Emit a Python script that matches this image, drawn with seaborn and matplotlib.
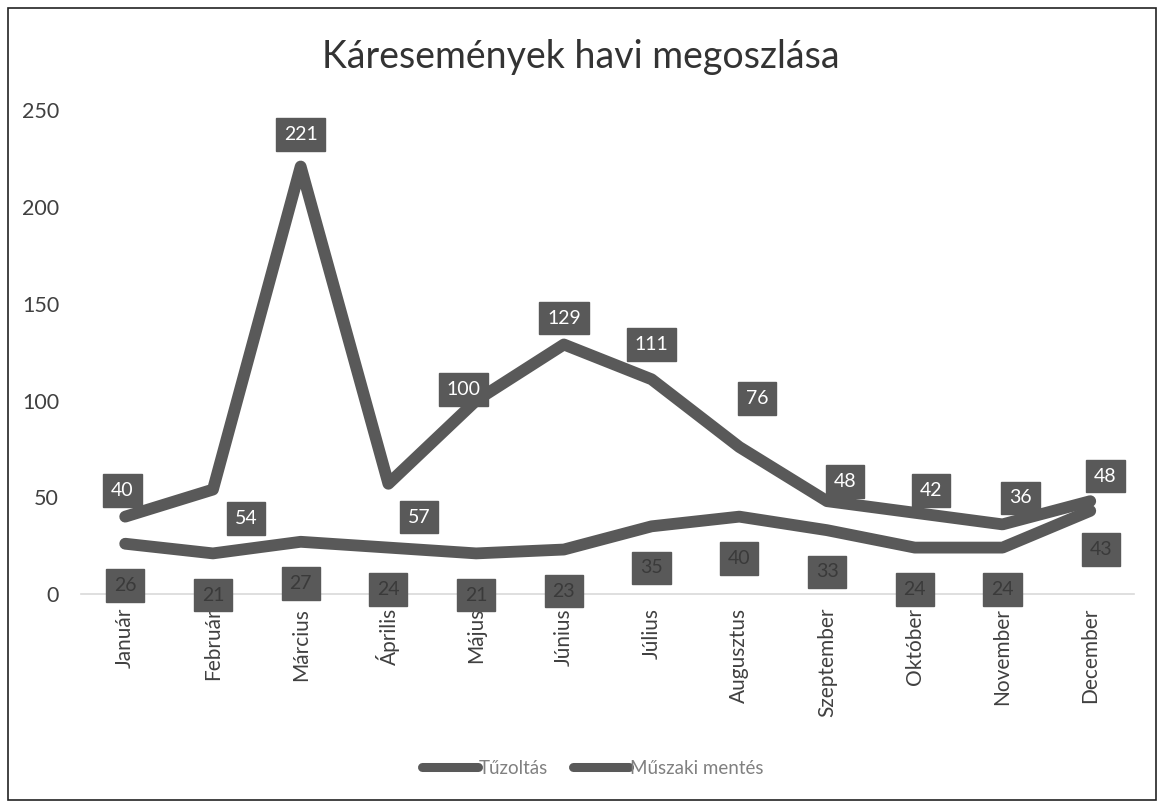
import matplotlib
matplotlib.use("Agg")
import matplotlib.pyplot as plt
import pandas as pd
import seaborn as sns
from matplotlib.patches import Rectangle
from matplotlib.lines import Line2D

# --- data ---
months = ["Január", "Február", "Március", "Április", "Május", "Június",
          "Július", "Augusztus", "Szeptember", "Október", "November", "December"]
tuzoltas = [40, 54, 221, 57, 100, 129, 111, 76, 48, 42, 36, 48]
muszaki = [26, 21, 27, 24, 21, 23, 35, 40, 33, 24, 24, 43]
series_names = ["Tűzoltás", "Műszaki mentés"]

# label offsets (points) for the callouts
tuz_offsets = [(-2, 19), (24, -21), (0, 23), (22, -24), (-9, 8), (0, 19),
               (0, 25), (13, 35), (13, 14), (12, 16), (13, 19), (11, 18)]
musz_offsets = [(0, -30)] * 11 + [(8, -28)]

sns.set_theme(style="white")
plt.rcParams["font.family"] = ["Lato", "DejaVu Sans"]

df = pd.DataFrame({
    "month": months * 2,
    "value": tuzoltas + muszaki,
    "series": [series_names[0]] * 12 + [series_names[1]] * 12,
})
df["x"] = list(range(12)) * 2

line_col = "#595959"
fig = plt.figure(figsize=(11.62, 8.06), dpi=100)
ax = fig.add_axes([0.070, 0.263, 0.906, 0.600])

sns.lineplot(data=df, x="x", y="value", hue="series",
             palette=[line_col, line_col], linewidth=8.5, ax=ax,
             legend=False, solid_capstyle="round", solid_joinstyle="round")

box = dict(boxstyle="square,pad=0.4", fc="#595959", ec="#595959")
for i, v in enumerate(tuzoltas):
    ax.annotate(str(v), (i, v), xytext=tuz_offsets[i], textcoords="offset points",
                ha="center", va="center", color="white", fontsize=14, bbox=box)
for i, v in enumerate(muszaki):
    ax.annotate(str(v), (i, v), xytext=musz_offsets[i], textcoords="offset points",
                ha="center", va="center", color="#3a3a3a", fontsize=14, bbox=box)

ax.set_xlim(-0.5, 11.5)
ax.set_ylim(0, 250)
ax.set_xticks(range(12))
ax.set_xticklabels(months, rotation=90, fontsize=15, color="#404040")
ax.set_yticks([0, 50, 100, 150, 200, 250])
ax.tick_params(axis="y", labelsize=15.5, colors="#404040", length=0, pad=16)
ax.tick_params(axis="x", length=0, pad=10)
ax.set_xlabel("")
ax.set_ylabel("")
for s in ["top", "right", "left"]:
    ax.spines[s].set_visible(False)
ax.spines["bottom"].set_color("#d9d9d9")
ax.spines["bottom"].set_linewidth(1.2)

fig.suptitle("Káresemények havi megoszlása", y=0.952, fontsize=27, color="#333333")

handles = [Line2D([0], [0], color=line_col, linewidth=6.5, solid_capstyle="round")
           for _ in series_names]
leg = fig.legend(handles, series_names, loc="center", bbox_to_anchor=(0.51, 0.047),
                 ncol=2, frameon=False, fontsize=13.5, handlelength=3.0,
                 handletextpad=0.05, columnspacing=1.3)
for t in leg.get_texts():
    t.set_color("#808080")

fig.patches.append(Rectangle((0.007, 0.008), 0.988, 0.982, transform=fig.transFigure,
                             fill=False, ec="#222222", lw=1.2))

fig.savefig("out.png", dpi=100)
